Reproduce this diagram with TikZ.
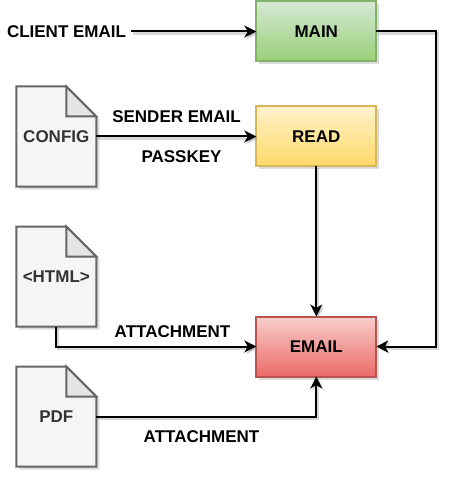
\documentclass[tikz,border=0pt]{standalone}
\usepackage{fontspec}
\setmainfont{Liberation Sans}
\usetikzlibrary{arrows.meta,shadows}
\definecolor{gs}{HTML}{D5E8D4}\definecolor{ge}{HTML}{97D077}\definecolor{gd}{HTML}{82B366}
\definecolor{ys}{HTML}{FFF2CC}\definecolor{ye}{HTML}{FFD966}\definecolor{yd}{HTML}{D6B656}
\definecolor{rs}{HTML}{F8CECC}\definecolor{re}{HTML}{EA6B66}\definecolor{rd}{HTML}{B85450}
\definecolor{df}{HTML}{F5F5F5}\definecolor{dd}{HTML}{666666}\definecolor{dt}{HTML}{333333}
\definecolor{shc}{HTML}{8C8C9C}
\tikzset{
  x=1pt,y=-1pt,
  every node/.style={font=\fontsize{17}{20}\selectfont\bfseries,inner sep=0pt,outer sep=0pt},
  softshadow/.style={drop shadow={shadow xshift=3pt,shadow yshift=-3pt,opacity=.32,fill=shc}},
  procbox/.style={draw,line width=2pt,minimum width=120pt,minimum height=60pt,text=black,softshadow},
  greenbox/.style={procbox,draw=gd,top color=gs,bottom color=ge},
  yellowbox/.style={procbox,draw=yd,top color=ys,bottom color=ye},
  redbox/.style={procbox,draw=rd,top color=rs,bottom color=re},
  docnode/.style={minimum width=80pt,minimum height=100pt,text=dt},
  docline/.style={draw=dd,line width=2pt,line join=miter},
  linktext/.style={text=black},
  link/.style={draw=black,line width=2pt,-{Stealth[length=12pt,width=12pt,inset=3.5pt]},
    preaction={draw=shc,opacity=.35,line width=2.5pt,transform canvas={xshift=1.8pt,yshift=-1.8pt}}},
}
\newcommand{\docshape}[2]{%
  \begin{scope}[shift={(#1,#2)}]
    \fill[shc,opacity=.32] (3,3) -- (53,3) -- (83,33) -- (83,103) -- (3,103) -- cycle;
    \path[fill=df,docline] (0,0) -- (50,0) -- (80,30) -- (80,100) -- (0,100) -- cycle;
    \path[fill=black!10,docline] (50,0) -- (80,30) -- (50,30) -- cycle;
  \end{scope}}
\begin{document}
\begin{tikzpicture}
\useasboundingbox (0.2,0) rectangle (456.2,478);
\node[greenbox] (main) at (316.5,31.5) {MAIN};
\node[yellowbox] (read) at (316.5,136.5) {READ};
\node[redbox] (email) at (316.5,346.5) {EMAIL};
\docshape{16.5}{86.5}
\docshape{16.5}{226.5}
\docshape{16.5}{366.5}
\node[docnode] (config) at (56.5,136.5) {CONFIG};
\node[docnode] (html) at (56.5,276.5) {<HTML>};
\node[docnode] (pdf) at (56.5,416.5) {PDF};
\node[linktext,inner xsep=5pt] (client) at (66.7,31.5) {CLIENT EMAIL};
\node[linktext] (sender) at (176.7,116.5) {SENDER EMAIL};
\node[linktext] (pass) at (181.7,156.5) {PASSKEY};
\node[linktext] (att1) at (172.7,331.5) {ATTACHMENT};
\node[linktext] (att2) at (201.7,436.5) {ATTACHMENT};
\draw[link] (client.east |- main.west) -- (main.west);
\draw[link] (config.east) -- (read.west);
\draw[link] (read.south) -- (email.north);
\draw[link] (html.south) |- (email.west);
\draw[link] (pdf.east) -| (email.south);
\draw[link] (main.east) -- ++(60,0) |- (email.east);
\end{tikzpicture}
\end{document}
